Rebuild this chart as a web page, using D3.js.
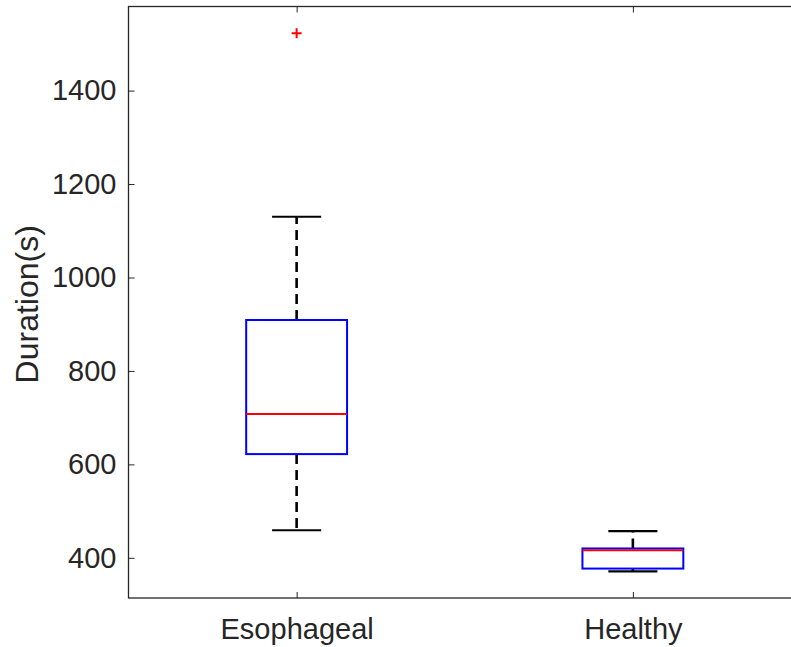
<!DOCTYPE html>
<html>
<head>
<meta charset="utf-8">
<script src="https://cdnjs.cloudflare.com/ajax/libs/d3/7.8.5/d3.min.js"></script>
<style>
  body { margin: 0; background: #fff; }
  svg { display: block; font-family: "Liberation Sans", Arial, sans-serif; }
</style>
</head>
<body>
<div id="chart"></div>
<script>
// Box plot summary values
const groups = ['Esophageal', 'Healthy'];
const whiskerLow = [459, 371];
const q1 = [622, 377];
const medians = [708, 416];
const q3 = [909, 420];
const whiskerHigh = [1130, 457];
const outliers = [[1523], []];
const yTicks = [400, 600, 800, 1000, 1200, 1400];

const W = 791, H = 647;
const plotLeft = 128.5, plotRight = 801, plotTop = 6.5, plotBottom = 598;

const svg = d3.select('#chart').append('svg')
  .attr('width', W).attr('height', H);

const x = d3.scaleLinear().domain([0.5, 2.5]).range([plotLeft, plotRight]);
const y = d3.scaleLinear().domain([314, 1580]).range([plotBottom, plotTop]);

const axisColor = '#262626';
const boxHalf = 0.15, capHalf = 0.073;

// y axis (ticks inward)
const yAxis = svg.append('g')
  .attr('transform', `translate(${plotLeft},0)`)
  .call(d3.axisLeft(y).tickValues(yTicks).tickFormat(d3.format('d')).tickSize(-6).tickPadding(12));
yAxis.select('.domain').remove();
yAxis.selectAll('line').attr('stroke', axisColor);
yAxis.selectAll('text').attr('fill', axisColor).style('font-size', '29px');

// x axis bottom + mirrored top ticks
const xAxis = svg.append('g')
  .attr('transform', `translate(0,${plotBottom})`)
  .call(d3.axisBottom(x).tickValues([1, 2]).tickFormat((d, i) => groups[i]).tickSize(-6).tickPadding(20));
xAxis.select('.domain').remove();
xAxis.selectAll('line').attr('stroke', axisColor);
xAxis.selectAll('text').attr('fill', axisColor).style('font-size', '29px');

const xTop = svg.append('g')
  .attr('transform', `translate(0,${plotTop})`)
  .call(d3.axisTop(x).tickValues([1, 2]).tickFormat('').tickSize(-6));
xTop.select('.domain').remove();
xTop.selectAll('line').attr('stroke', axisColor);

// axes box
svg.append('rect')
  .attr('x', plotLeft).attr('y', plotTop)
  .attr('width', plotRight - plotLeft).attr('height', plotBottom - plotTop)
  .attr('fill', 'none').attr('stroke', axisColor).attr('stroke-width', 1.3);

// y label
svg.append('text')
  .attr('transform', `translate(38,${(plotTop + plotBottom) / 2 + 2}) rotate(-90)`)
  .attr('text-anchor', 'middle')
  .attr('fill', axisColor)
  .style('font-size', '32px')
  .text('Duration(s)');

const g = svg.append('g');

groups.forEach((name, i) => {
  const c = i + 1;
  // whiskers
  g.append('line')
    .attr('x1', x(c)).attr('x2', x(c))
    .attr('y1', y(q3[i])).attr('y2', y(whiskerHigh[i]))
    .attr('stroke', '#000').attr('stroke-width', 2.6).attr('stroke-dasharray', '10,6');
  g.append('line')
    .attr('x1', x(c)).attr('x2', x(c))
    .attr('y1', y(q1[i])).attr('y2', y(whiskerLow[i]))
    .attr('stroke', '#000').attr('stroke-width', 2.6).attr('stroke-dasharray', '10,6');
  // caps
  [whiskerHigh[i], whiskerLow[i]].forEach(v => {
    g.append('line')
      .attr('x1', x(c - capHalf)).attr('x2', x(c + capHalf))
      .attr('y1', y(v)).attr('y2', y(v))
      .attr('stroke', '#000').attr('stroke-width', 2.2);
  });
  // box
  g.append('rect')
    .attr('x', x(c - boxHalf)).attr('y', y(q3[i]))
    .attr('width', x(c + boxHalf) - x(c - boxHalf))
    .attr('height', y(q1[i]) - y(q3[i]))
    .attr('fill', 'none').attr('stroke', '#0000ff').attr('stroke-width', 2);
  // median
  g.append('line')
    .attr('x1', x(c - boxHalf)).attr('x2', x(c + boxHalf))
    .attr('y1', y(medians[i])).attr('y2', y(medians[i]))
    .attr('stroke', '#ff0000').attr('stroke-width', 2);
  // outliers
  outliers[i].forEach(v => {
    const px = x(c), py = y(v);
    g.append('path')
      .attr('d', `M${px - 5},${py}H${px + 5}M${px},${py - 5}V${py + 5}`)
      .attr('stroke', '#ff0000').attr('stroke-width', 2).attr('fill', 'none');
  });
});
</script>
</body>
</html>
